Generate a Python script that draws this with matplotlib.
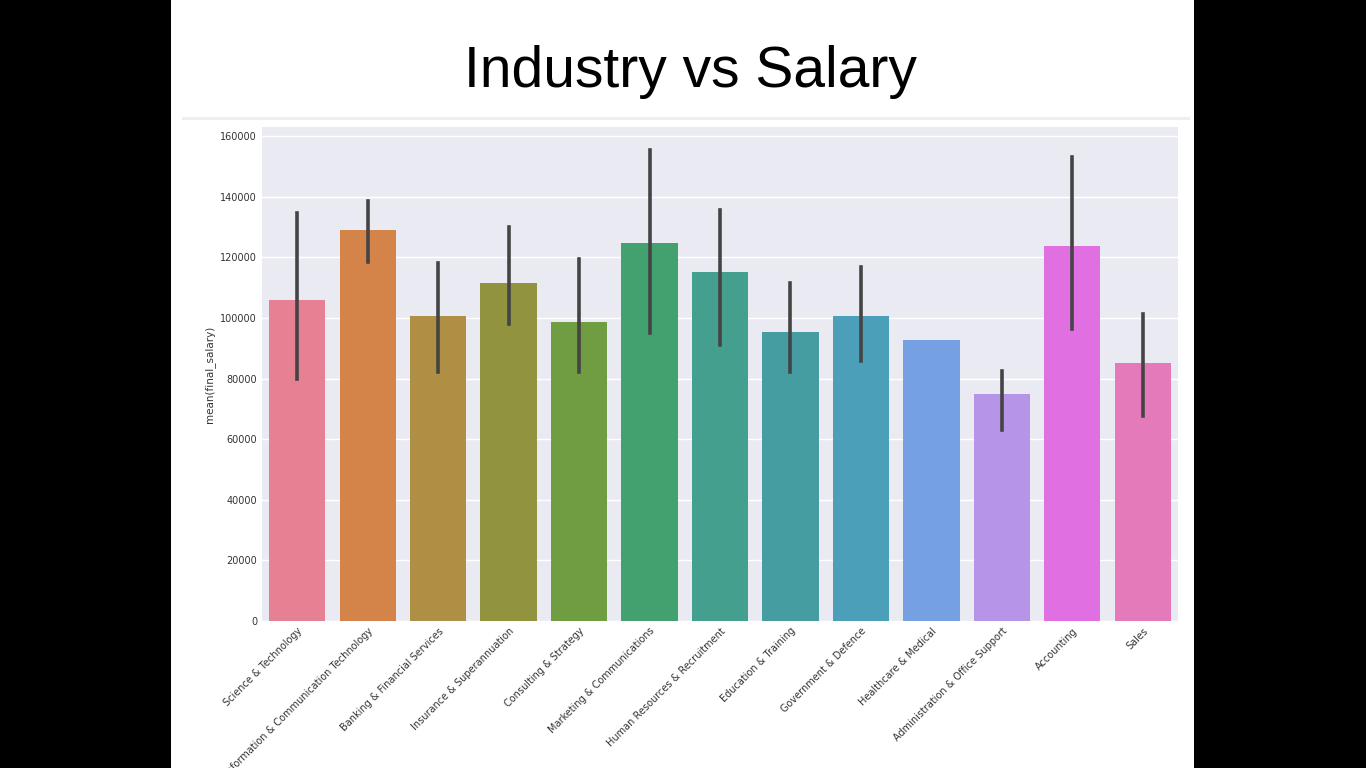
import matplotlib
matplotlib.use("Agg")
import matplotlib.pyplot as plt
from matplotlib.patches import Rectangle
import seaborn as sns

industries = ["Science & Technology", "Information & Communication Technology",
              "Banking & Financial Services", "Insurance & Superannuation",
              "Consulting & Strategy", "Marketing & Communications",
              "Human Resources & Recruitment", "Education & Training",
              "Government & Defence", "Healthcare & Medical",
              "Administration & Office Support", "Accounting", "Sales"]
means = [106000, 129000, 100500, 111500, 98800, 124800, 115000,
         95500, 100800, 92800, 75000, 123700, 85000]
ci_low = [80000, 118500, 82000, 98000, 82000, 95000, 91000,
          82000, 85700, 92800, 63000, 96500, 67500]
ci_high = [134500, 138500, 118000, 130000, 119500, 155500, 135500,
           111500, 116700, 92800, 82500, 153200, 101400]

fig = plt.figure(figsize=(13.66, 7.68), dpi=100, facecolor="black")
fig.patches.append(Rectangle((171 / 1366, 0), 1023 / 1366, 1, transform=fig.transFigure,
                             facecolor="white", zorder=-10))
fig.patches.append(Rectangle((182 / 1366, 648 / 768), 1008 / 1366, 3 / 768,
                             transform=fig.transFigure, facecolor="#eeeeee", zorder=-9))
fig.text(690 / 1366, 1 - 72 / 768, "Industry vs Salary", ha="center", va="center",
         fontsize=41, family="Liberation Sans")

ax = fig.add_axes([262 / 1366, 147 / 768, 916 / 1366, 494 / 768])
ax.set_facecolor("#EAEAF2")
for s in ax.spines.values():
    s.set_visible(False)
ax.grid(axis="y", color="white", lw=1)
ax.set_axisbelow(True)

# old seaborn barplot: husl palette, desaturated
pal = [sns.desaturate(c, 0.75) for c in sns.husl_palette(len(industries))]
x = range(len(industries))
ax.bar(x, means, width=0.8, color=pal)
for i in x:
    if ci_high[i] > ci_low[i]:
        ax.plot([i, i], [ci_low[i], ci_high[i]], color="#444444", lw=2.6)

ax.set_xlim(-0.5, len(industries) - 0.5)
ax.set_ylim(0, 163000)
ax.set_yticks(range(0, 160001, 20000))
ax.tick_params(length=0, labelsize=7, colors="#333333")
ax.set_xticks(list(x))
ax.set_xticklabels(industries, rotation=45, ha="right", rotation_mode="anchor")
ax.set_ylabel("mean(final_salary)", fontsize=7.5, color="#333333")

fig.savefig("out.png", dpi=100, facecolor="black")
